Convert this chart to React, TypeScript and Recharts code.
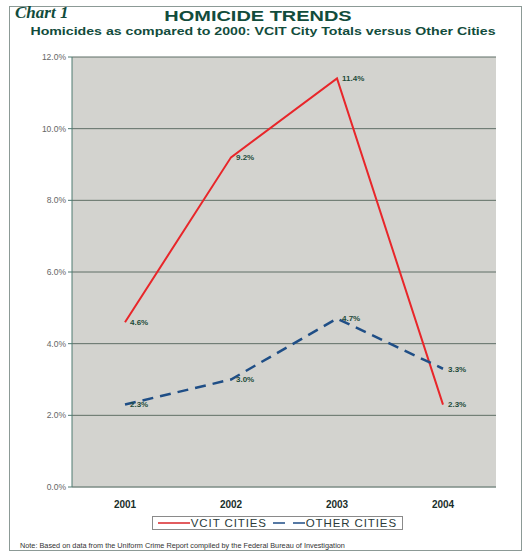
import React from 'react'
import {
  LineChart,
  Line,
  XAxis,
  YAxis,
  CartesianGrid,
  LabelList,
} from 'recharts'

const YEARS = ['2001', '2002', '2003', '2004']
const VCIT_CITIES = [4.6, 9.2, 11.4, 2.3]
const OTHER_CITIES = [2.3, 3.0, 4.7, 3.3]
const Y_TICKS = [0, 2, 4, 6, 8, 10, 12]

const chartData = YEARS.map((year, i) => ({
  year,
  vcit: VCIT_CITIES[i],
  other: OTHER_CITIES[i],
}))

const FONT = '"Liberation Sans", Arial, sans-serif'
const GREEN = '#124c3c'

function LegendBox() {
  return (
    <div
      style={{
        position: 'absolute',
        left: 152,
        top: 516,
        width: 251,
        height: 14,
        boxSizing: 'border-box',
        display: 'flex',
        alignItems: 'center',
        border: '1px solid #8a8a8a',
        background: '#fff',
        padding: '0 5px',
        fontFamily: FONT,
        fontSize: 11.5,
        color: '#2a3a3a',
        letterSpacing: 0.9,
        lineHeight: '12px',
        whiteSpace: 'nowrap',
      }}
    >
      <svg width={32} height={6}>
        <line x1={0} y1={3} x2={32} y2={3} stroke="#d8262a" strokeWidth={1.5} />
      </svg>
      <span style={{ marginLeft: 1, marginRight: 6 }}>VCIT CITIES</span>
      <svg width={32} height={6}>
        <line x1={0} y1={3} x2={32} y2={3} stroke="#1f4e86" strokeWidth={1.5} strokeDasharray="12 8" />
      </svg>
      <span style={{ marginLeft: 1 }}>OTHER CITIES</span>
    </div>
  )
}

export default function App() {
  return (
    <div style={{ position: 'absolute', left: 0, top: 0, width: 530, height: 557, background: '#fff' }}>
      <div
        style={{
          position: 'absolute',
          left: 9,
          top: 6,
          width: 511,
          height: 543,
          border: '1px solid #8c9a96',
        }}
      />
      <div
        style={{
          position: 'absolute',
          left: 15,
          top: 3,
          fontFamily: '"Liberation Serif", "Times New Roman", serif',
          fontStyle: 'italic',
          fontWeight: 'bold',
          fontSize: 17,
          color: GREEN,
        }}
      >
        Chart 1
      </div>
      <div
        style={{
          position: 'absolute',
          left: 0,
          width: 516,
          top: 7,
          textAlign: 'center',
          fontFamily: FONT,
          fontWeight: 'bold',
          fontSize: 15,
          color: GREEN,
          transform: 'scaleX(1.33)',
          transformOrigin: '258px 0',
        }}
      >
        HOMICIDE TRENDS
      </div>
      <div
        style={{
          position: 'absolute',
          left: 0,
          width: 526,
          top: 25,
          textAlign: 'center',
          fontFamily: FONT,
          fontWeight: 'bold',
          fontSize: 11.5,
          color: GREEN,
          transform: 'scaleX(1.23)',
          transformOrigin: '263px 0',
          whiteSpace: 'nowrap',
        }}
      >
        Homicides as compared to 2000: VCIT City Totals versus Other Cities
      </div>
      <div style={{ position: 'absolute', left: 0, top: 0 }}>
        <LineChart
          width={530}
          height={557}
          data={chartData}
          margin={{ top: 57, right: 34, bottom: 40, left: 0 }}
        >
          <CartesianGrid
            vertical={false}
            stroke="#5f6f66"
            fill="#d3d3cf"
            strokeWidth={1}
          />
          <XAxis
            dataKey="year"
            height={30}
            padding={{ left: 53, right: 53 }}
            tickLine={false}
            axisLine={{ stroke: '#8a9a94' }}
            tick={{ fill: '#1a2e2a', fontSize: 10, fontWeight: 'bold', fontFamily: FONT }}
            tickMargin={8}
          />
          <YAxis
            width={72}
            domain={[0, 12]}
            ticks={Y_TICKS}
            tickFormatter={(v) => `${v.toFixed(1)}%`}
            axisLine={{ stroke: '#4f7a70' }}
            tickLine={{ stroke: '#4f7a70' }}
            tickSize={4}
            tick={{ fill: '#666', fontSize: 8.5, fontFamily: FONT }}
          />
          <Line
            type="linear"
            dataKey="vcit"
            name="VCIT CITIES"
            stroke="#e8262a"
            strokeWidth={2}
            dot={false}
            isAnimationActive={false}
          >
            <LabelList
              dataKey="vcit"
              position="right"
              offset={5}
              formatter={(v: number) => `${v.toFixed(1)}%`}
              style={{ fill: '#1d4a3a', fontSize: 8, fontWeight: 'bold', fontFamily: FONT }}
            />
          </Line>
          <Line
            type="linear"
            dataKey="other"
            name="OTHER CITIES"
            stroke="#1f4e86"
            strokeWidth={2.5}
            strokeDasharray="11 7"
            dot={false}
            isAnimationActive={false}
          >
            <LabelList
              dataKey="other"
              position="right"
              offset={5}
              formatter={(v: number) => `${v.toFixed(1)}%`}
              style={{ fill: '#1d4a3a', fontSize: 8, fontWeight: 'bold', fontFamily: FONT }}
            />
          </Line>
        </LineChart>
      </div>
      <LegendBox />
      <div
        style={{
          position: 'absolute',
          left: 20,
          top: 541,
          fontFamily: FONT,
          fontSize: 7.3,
          color: '#333',
          whiteSpace: 'nowrap',
        }}
      >
        Note: Based on data from the Uniform Crime Report compiled by the Federal Bureau of Investigation
      </div>
    </div>
  )
}
